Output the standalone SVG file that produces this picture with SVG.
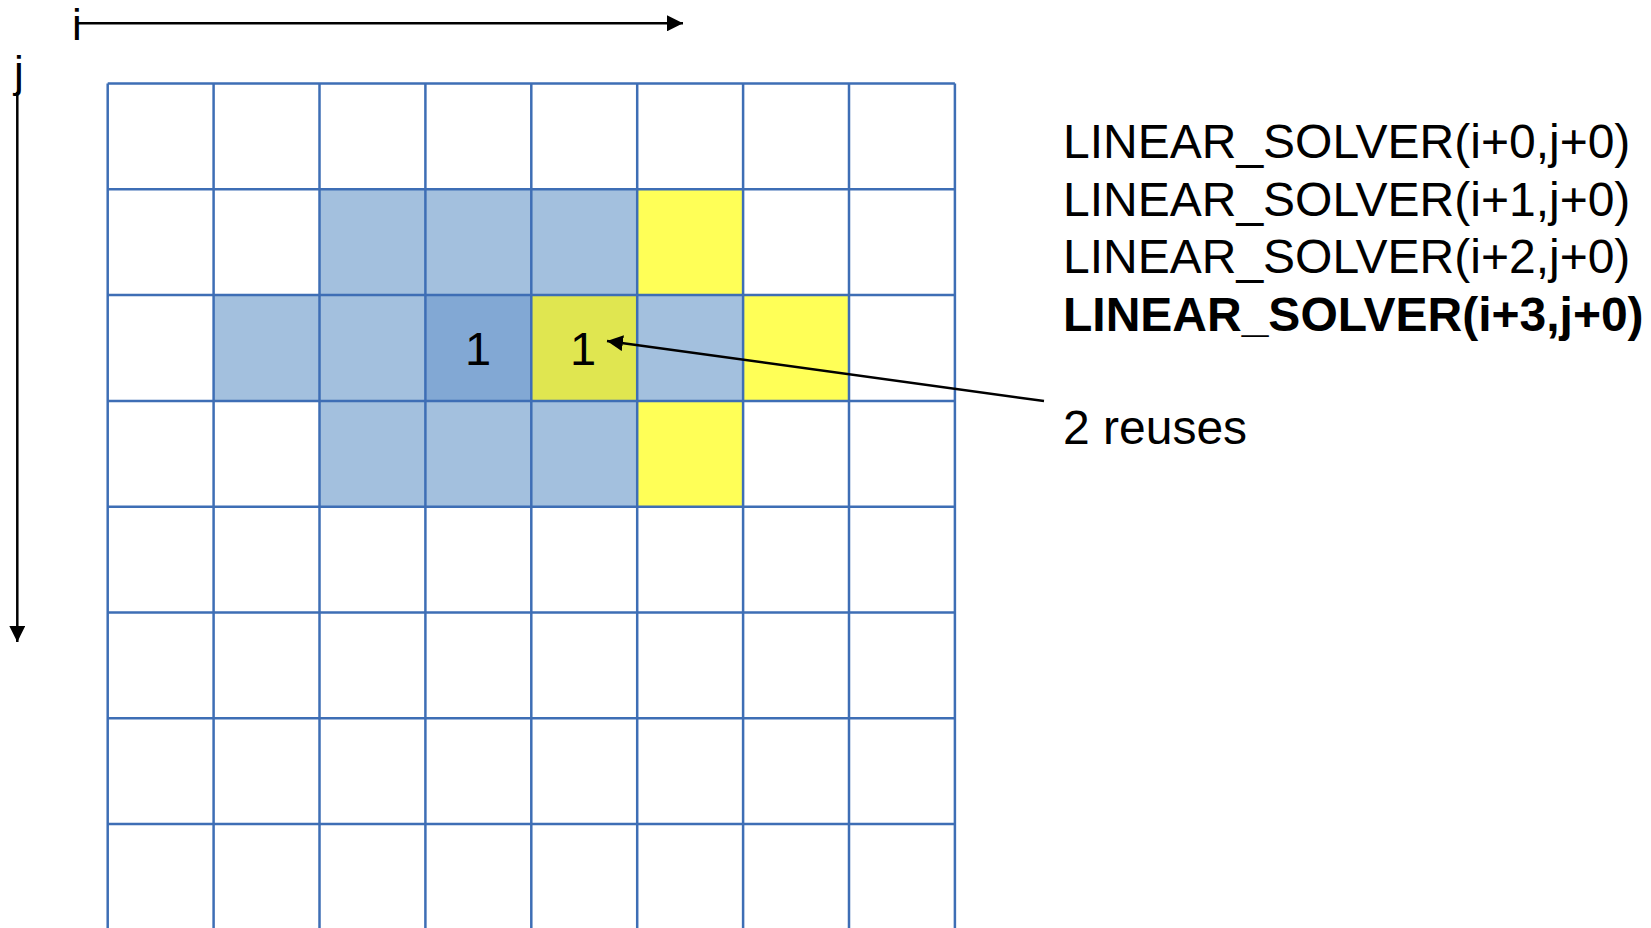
<svg xmlns="http://www.w3.org/2000/svg" width="1651" height="928" viewBox="0 0 1651 928">
<defs>
<style>
.lb{fill:#A3C0DE}
.db{fill:#82A8D4}
.ye{fill:#FFFF57}
.yg{fill:#E0E650}
.grid line{stroke:#3E6EB5;stroke-width:2.5}
.t{font-family:"Liberation Sans",Arial,sans-serif;fill:#000}
.code{font-size:48px}
.conn{stroke:#000;stroke-width:2.5;fill:none}
</style>
<marker id="ah" viewBox="0 0 10 10" refX="10" refY="5" markerWidth="16" markerHeight="16" markerUnits="userSpaceOnUse" orient="auto">
<path d="M0,0 L10,5 L0,10 Z" fill="#000"/>
</marker>
</defs>
<rect width="1651" height="928" fill="#fff"/>
<g id="cells">
<g id="r1c2"><rect class="lb" x="319.5" y="189.3" width="105.9" height="105.8"/></g>
<g id="r1c3"><rect class="lb" x="425.4" y="189.3" width="105.9" height="105.8"/></g>
<g id="r1c4"><rect class="lb" x="531.3" y="189.3" width="105.9" height="105.8"/></g>
<g id="r1c5"><rect class="ye" x="637.2" y="189.3" width="105.9" height="105.8"/></g>
<g id="r2c1"><rect class="lb" x="213.6" y="295.1" width="105.9" height="105.8"/></g>
<g id="r2c2"><rect class="lb" x="319.5" y="295.1" width="105.9" height="105.8"/></g>
<g id="r2c3"><rect class="db" x="425.4" y="295.1" width="105.9" height="105.8"/></g>
<g id="r2c4"><rect class="yg" x="531.3" y="295.1" width="105.9" height="105.8"/></g>
<g id="r2c5"><rect class="lb" x="637.2" y="295.1" width="105.9" height="105.8"/></g>
<g id="r2c6"><rect class="ye" x="743.1" y="295.1" width="105.9" height="105.8"/></g>
<g id="r3c2"><rect class="lb" x="319.5" y="400.9" width="105.9" height="105.8"/></g>
<g id="r3c3"><rect class="lb" x="425.4" y="400.9" width="105.9" height="105.8"/></g>
<g id="r3c4"><rect class="lb" x="531.3" y="400.9" width="105.9" height="105.8"/></g>
<g id="r3c5"><rect class="ye" x="637.2" y="400.9" width="105.9" height="105.8"/></g>
</g>
<g id="grid" class="grid">
<line x1="107.7" y1="83.5" x2="107.7" y2="935"/>
<line x1="213.6" y1="83.5" x2="213.6" y2="935"/>
<line x1="319.5" y1="83.5" x2="319.5" y2="935"/>
<line x1="425.4" y1="83.5" x2="425.4" y2="935"/>
<line x1="531.3" y1="83.5" x2="531.3" y2="935"/>
<line x1="637.2" y1="83.5" x2="637.2" y2="935"/>
<line x1="743.1" y1="83.5" x2="743.1" y2="935"/>
<line x1="849" y1="83.5" x2="849" y2="935"/>
<line x1="954.9" y1="83.5" x2="954.9" y2="935"/>
<line x1="107.7" y1="83.5" x2="954.9" y2="83.5"/>
<line x1="107.7" y1="189.3" x2="954.9" y2="189.3"/>
<line x1="107.7" y1="295.1" x2="954.9" y2="295.1"/>
<line x1="107.7" y1="400.9" x2="954.9" y2="400.9"/>
<line x1="107.7" y1="506.7" x2="954.9" y2="506.7"/>
<line x1="107.7" y1="612.5" x2="954.9" y2="612.5"/>
<line x1="107.7" y1="718.3" x2="954.9" y2="718.3"/>
<line x1="107.7" y1="824.1" x2="954.9" y2="824.1"/>
</g>
<g id="cell-labels">
<text class="t" x="478" y="365" font-size="47" text-anchor="middle">1</text>
<text class="t" x="583" y="365" font-size="47" text-anchor="middle">1</text>
</g>
<g id="axes">
<g id="axis-i">
<text class="t" x="72" y="40" font-size="44">i</text>
<line class="conn" x1="78" y1="23.3" x2="683" y2="23.3" marker-end="url(#ah)"/>
</g>
<g id="axis-j">
<text class="t" x="14" y="87" font-size="44">j</text>
<line class="conn" x1="17.3" y1="92" x2="17.3" y2="642" marker-end="url(#ah)"/>
</g>
</g>
<g id="connectors">
<line class="conn" x1="1044" y1="401" x2="607" y2="341" marker-end="url(#ah)"/>
</g>
<g id="code-text">
<text class="t code" x="1063" y="158">LINEAR_SOLVER(i+0,j+0)</text>
<text class="t code" x="1063" y="215.5">LINEAR_SOLVER(i+1,j+0)</text>
<text class="t code" x="1063" y="273">LINEAR_SOLVER(i+2,j+0)</text>
<text class="t code" x="1063" y="330.5" font-weight="bold">LINEAR_SOLVER(i+3,j+0)</text>
</g>
<g id="reuse-label">
<text class="t" x="1063" y="444" font-size="48">2 reuses</text>
</g>
</svg>
